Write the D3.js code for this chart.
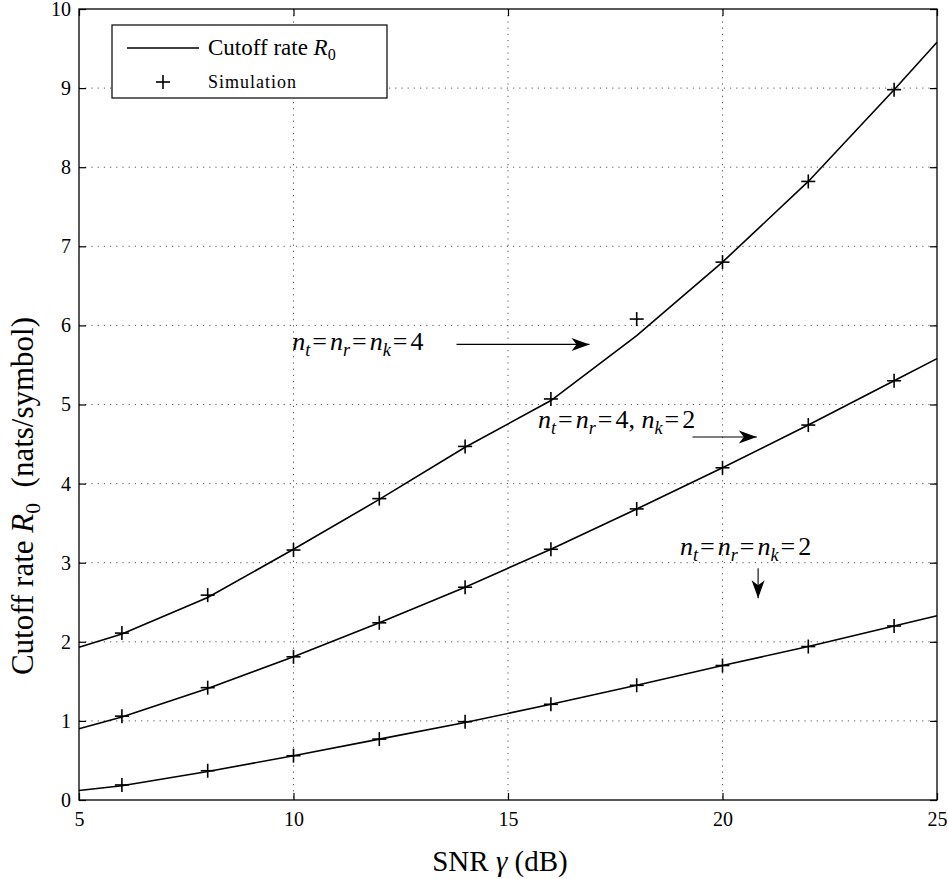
<!DOCTYPE html>
<html lang="en">
<script src="https://d3js.org/d3.v7.min.js"></script>
<style>
  body { margin: 0; background: white; }
  .grid line { stroke: #555; stroke-width: 1; stroke-dasharray: 1.2,5; }
  .curve { fill: none; stroke: black; stroke-width: 1.6; }
  .plus { stroke: black; stroke-width: 1.6; }
</style>
<body>
<svg width="948" height="879" id="chart" font-family="Liberation Serif, serif"></svg>
<script>
  // SNR points of the analytic curves and of the simulation
  var snrLine = [5, 6, 8, 10, 12, 14, 16, 18, 20, 22, 24, 25];
  var snrSim = [6, 8, 10, 12, 14, 16, 18, 20, 22, 24];

  // cutoff rate R0 (nats/symbol)
  var r0_444 = [1.93, 2.10, 2.56, 3.17, 3.80, 4.46, 5.05, 5.87, 6.80, 7.82, 8.98, 9.58];
  var r0_442 = [0.90, 1.05, 1.41, 1.81, 2.24, 2.69, 3.17, 3.68, 4.20, 4.74, 5.30, 5.58];
  var r0_222 = [0.12, 0.18, 0.36, 0.56, 0.77, 0.98, 1.21, 1.45, 1.70, 1.94, 2.20, 2.33];

  var sim_444 = [2.11, 2.59, 3.16, 3.81, 4.47, 5.07, 6.08, 6.80, 7.82, 8.98];
  var sim_442 = [1.06, 1.42, 1.81, 2.24, 2.69, 3.17, 3.68, 4.20, 4.74, 5.30];
  var sim_222 = [0.19, 0.37, 0.56, 0.77, 0.99, 1.21, 1.45, 1.70, 1.94, 2.20];

  var xTicks = [5, 10, 15, 20, 25];
  var yTicks = [0, 1, 2, 3, 4, 5, 6, 7, 8, 9, 10];

  var serif = "Liberation Serif, serif";
  var svg = d3.select("#chart");
  var margin = {left: 79, top: 9};
  var width = 858, height = 791;

  var x = d3.scaleLinear().domain([5, 25]).range([0, width]);
  var y = d3.scaleLinear().domain([0, 10]).range([height, 0]);

  var g = svg.append("g").attr("transform", "translate(" + margin.left + "," + margin.top + ")");

  // dotted grid
  var grid = g.append("g").attr("class", "grid");
  grid.selectAll(".gx").data(xTicks.slice(1, -1)).enter().append("line")
    .attr("x1", d => x(d)).attr("x2", d => x(d)).attr("y1", 0).attr("y2", height);
  grid.selectAll(".gy").data(yTicks.slice(1, -1)).enter().append("line")
    .attr("x1", 0).attr("x2", width).attr("y1", d => y(d)).attr("y2", d => y(d));

  // axes, ticks pointing inward
  function styleAxis(sel) {
    sel.attr("font-family", serif).attr("font-size", 20);
    sel.select(".domain").remove();
    sel.selectAll(".tick line").attr("stroke", "black").attr("stroke-width", 1.2);
  }
  g.append("g").attr("transform", "translate(0," + height + ")")
    .call(d3.axisBottom(x).tickValues(xTicks).tickSizeInner(-7).tickSizeOuter(0).tickPadding(12))
    .call(styleAxis);
  g.append("g")
    .call(d3.axisTop(x).tickValues(xTicks).tickSizeInner(-7).tickSizeOuter(0).tickFormat(""))
    .call(styleAxis);
  g.append("g")
    .call(d3.axisLeft(y).tickValues(yTicks).tickSizeInner(-7).tickSizeOuter(0).tickPadding(8))
    .call(styleAxis);
  g.append("g").attr("transform", "translate(" + width + ",0)")
    .call(d3.axisRight(y).tickValues(yTicks).tickSizeInner(-7).tickSizeOuter(0).tickFormat(""))
    .call(styleAxis);

  g.append("rect").attr("width", width).attr("height", height)
    .attr("fill", "none").attr("stroke", "black").attr("stroke-width", 1.3);

  // curves
  var line = d3.line().x(d => x(d[0])).y(d => y(d[1]));
  var curves = [r0_444, r0_442, r0_222];
  var sims = [sim_444, sim_442, sim_222];

  curves.forEach(function(vals) {
    g.append("path").attr("class", "curve")
      .attr("d", line(snrLine.map((s, i) => [s, vals[i]])));
  });

  function plus(sel, size) {
    sel.append("line").attr("class", "plus").attr("x1", -size).attr("x2", size);
    sel.append("line").attr("class", "plus").attr("y1", -size).attr("y2", size);
  }
  sims.forEach(function(vals) {
    g.append("g").selectAll("g")
      .data(snrSim.map((s, i) => [s, vals[i]]))
      .enter().append("g")
      .attr("transform", d => "translate(" + x(d[0]) + "," + y(d[1]) + ")")
      .each(function() { plus(d3.select(this), 7); });
  });

  // arrow head
  svg.append("defs").append("marker")
    .attr("id", "stealth").attr("markerUnits", "userSpaceOnUse")
    .attr("viewBox", "-20 -8 22 16").attr("markerWidth", 22).attr("markerHeight", 16)
    .attr("refX", 0).attr("refY", 0).attr("orient", "auto")
    .append("path").attr("d", "M0,0 L-18,-6.5 L-13,0 L-18,6.5 Z").attr("fill", "black");

  // math label helper: parts are [text, kind], kind = i (italic), s (subscript italic),
  // s0 (subscript roman), r (roman), e (equals sign, a bit wider as in TeX)
  function mathText(sel, parts, size) {
    var inSub = false;
    parts.forEach(function(p) {
      var t = sel.append("tspan").text(p[0]);
      var sub = (p[1] === "s" || p[1] === "s0");
      if (p[1] === "i" || p[1] === "s") t.attr("font-style", "italic");
      if (sub) t.attr("font-size", size * 0.7);
      if (p[1] === "e") t.attr("dx", 2).attr("letter-spacing", 3);
      if (sub && !inSub) t.attr("dy", size * 0.22);
      if (!sub && inSub) t.attr("dy", -size * 0.22);
      inSub = sub;
    });
  }

  var annotations = [
    {text: [["n", "i"], ["t", "s"], ["=", "e"], ["n", "i"], ["r", "s"], ["=", "e"], ["n", "i"], ["k", "s"], ["=", "e"], ["4", "r"]],
     tx: 9.97, ty: 5.69, from: [13.8, 5.76], to: [16.9, 5.76]},
    {text: [["n", "i"], ["t", "s"], ["=", "e"], ["n", "i"], ["r", "s"], ["=", "e"], ["4, ", "r"], ["n", "i"], ["k", "s"], ["=", "e"], ["2", "r"]],
     tx: 15.7, ty: 4.70, from: [19.3, 4.59], to: [20.8, 4.59]},
    {text: [["n", "i"], ["t", "s"], ["=", "e"], ["n", "i"], ["r", "s"], ["=", "e"], ["n", "i"], ["k", "s"], ["=", "e"], ["2", "r"]],
     tx: 19.01, ty: 3.10, from: [20.83, 2.93], to: [20.83, 2.55]}
  ];
  annotations.forEach(function(a) {
    var t = g.append("text").attr("x", x(a.tx)).attr("y", y(a.ty)).attr("font-size", 26);
    mathText(t, a.text, 26);
    g.append("line")
      .attr("x1", x(a.from[0])).attr("y1", y(a.from[1]))
      .attr("x2", x(a.to[0])).attr("y2", y(a.to[1]))
      .attr("stroke", "black").attr("stroke-width", 1.1)
      .attr("marker-end", "url(#stealth)");
  });

  // legend
  var legend = svg.append("g");
  legend.append("rect").attr("x", 112).attr("y", 25).attr("width", 275).attr("height", 73)
    .attr("fill", "white").attr("stroke", "black").attr("stroke-width", 1.2);
  legend.append("line").attr("x1", 127).attr("x2", 199).attr("y1", 48).attr("y2", 48)
    .attr("stroke", "black").attr("stroke-width", 1.6);
  var lt = legend.append("text").attr("x", 208).attr("y", 55).attr("font-size", 23);
  mathText(lt, [["Cutoff rate ", "r"], ["R", "i"], ["0", "s0"]], 23);
  plus(legend.append("g").attr("transform", "translate(163,82)"), 7);
  legend.append("text").attr("x", 208).attr("y", 88).attr("font-size", 18)
    .attr("letter-spacing", 1).text("Simulation");

  // axis titles
  var xl = svg.append("text").attr("x", 500).attr("y", 871)
    .attr("text-anchor", "middle").attr("font-size", 29);
  mathText(xl, [["SNR ", "r"], ["\u03b3", "i"], [" (dB)", "r"]], 29);

  var yl = svg.append("text")
    .attr("transform", "translate(33,496) rotate(-90)")
    .attr("text-anchor", "middle").attr("font-size", 31);
  mathText(yl, [["Cutoff rate ", "r"], ["R", "i"], ["0", "s0"], ["\u00a0\u00a0(nats/symbol)", "r"]], 31);
</script>
</body>
</html>
